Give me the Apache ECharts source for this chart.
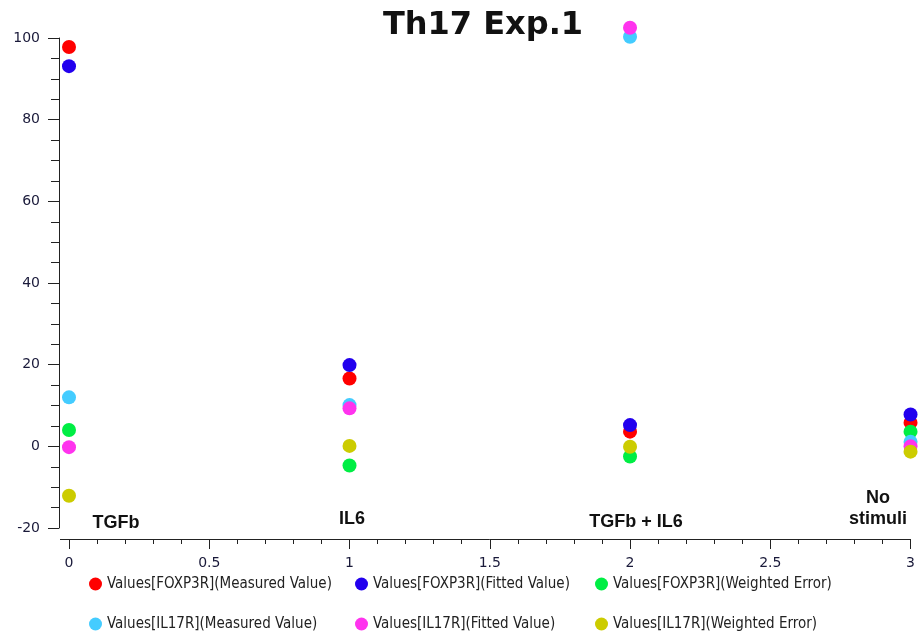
<!DOCTYPE html>
<html>
<head>
<meta charset="utf-8">
<style>html,body{margin:0;padding:0;background:#fff;}#chart{width:918px;height:634px;}</style>
<script src="https://cdn.jsdelivr.net/npm/echarts@6/dist/echarts.min.js"></script>
</head>
<body>
<div id="chart"></div>
<script>
var title = 'Th17 Exp.1';
var xPositions = [0, 1, 2, 3];
var conditionLabels = ['TGFb', 'IL6', 'TGFb + IL6', 'No\nstimuli'];
var seriesNames = [
  'Values[FOXP3R](Measured Value)',
  'Values[FOXP3R](Fitted Value)',
  'Values[FOXP3R](Weighted Error)',
  'Values[IL17R](Measured Value)',
  'Values[IL17R](Fitted Value)',
  'Values[IL17R](Weighted Error)'
];
var foxp3rMeasured = [97.8, 16.6, 3.6, 5.8];
var foxp3rFitted   = [93.1, 19.9, 5.2, 7.8];
var foxp3rError    = [4.0, -4.7, -2.5, 3.6];
var il17rMeasured  = [12.0, 10.1, 100.3, 1.1];
var il17rFitted    = [-0.2, 9.3, 102.5, 0.0];
var il17rError     = [-12.1, 0.1, -0.1, -1.3];
var colors = ['#ff0000', '#2200ee', '#00ee44', '#44ccff', '#ff33ee', '#cccc00'];

var allValues = [foxp3rMeasured, foxp3rFitted, foxp3rError, il17rMeasured, il17rFitted, il17rError];
var series = allValues.map(function (vals, i) {
  return {
    name: seriesNames[i],
    type: 'scatter',
    symbol: 'circle',
    symbolSize: 14,
    clip: false,
    itemStyle: { color: colors[i], opacity: 1 },
    data: vals.map(function (v, j) { return [xPositions[j], v]; }),
    z: 2 + i
  };
});

var chart = echarts.init(document.getElementById('chart'));
var labelPos = [[116, 523], [352, 519], [636, 522], [878, 509]];
var graphics = conditionLabels.map(function (t, i) {
  return {
    type: 'text', x: labelPos[i][0], y: labelPos[i][1],
    style: { text: t, font: 'bold 18px "Liberation Sans", Arial, sans-serif', fill: '#111', align: 'center', verticalAlign: 'middle', lineHeight: 21 }
  };
});
graphics.push({
  type: 'line', shape: { x1: 60, y1: 539.5, x2: 69, y2: 539.5 },
  style: { stroke: '#222', lineWidth: 1 }
});

var legendFont = { fontFamily: '"DejaVu Sans Condensed", "DejaVu Sans", sans-serif', fontSize: 15, lineHeight: 16, color: '#222' };
function makeLegend(left, names) {
  return {
    orient: 'vertical', left: left, top: 576, itemGap: 24,
    icon: 'circle', itemWidth: 13, itemHeight: 13,
    textStyle: legendFont, data: names, selectedMode: false, padding: 0
  };
}

chart.setOption({
  animation: false,
  title: {
    text: title, left: 478, top: 5, textAlign: 'center',
    textStyle: { fontFamily: '"DejaVu Sans", sans-serif', fontWeight: 'bold', fontSize: 32, color: '#111' }
  },
  legend: [
    makeLegend(89, [seriesNames[0], seriesNames[3]]),
    makeLegend(355, [seriesNames[1], seriesNames[4]]),
    makeLegend(595, [seriesNames[2], seriesNames[5]])
  ],
  grid: { left: 69, right: 4, top: 38, bottom: 106, containLabel: false },
  xAxis: {
    type: 'value', min: 0, max: 3, interval: 0.5, offset: 11,
    axisLine: { show: true, onZero: false, lineStyle: { color: '#222', width: 1 } },
    axisTick: { show: true, length: 10, lineStyle: { color: '#222' } },
    minorTick: { show: true, splitNumber: 5, length: 5, lineStyle: { color: '#222' } },
    splitLine: { show: false },
    axisLabel: { margin: 17, color: '#1a1a3a', fontFamily: '"DejaVu Sans", sans-serif', fontSize: 14, showMaxLabel: true }
  },
  yAxis: {
    type: 'value', min: -20, max: 100, interval: 20, offset: 10,
    axisLine: { show: true, onZero: false, lineStyle: { color: '#222', width: 1 } },
    axisTick: { show: true, length: 11, lineStyle: { color: '#222' } },
    minorTick: { show: true, splitNumber: 4, length: 8, lineStyle: { color: '#222' } },
    splitLine: { show: false },
    axisLabel: { margin: 19, color: '#1a1a3a', fontFamily: '"DejaVu Sans", sans-serif', fontSize: 14 }
  },
  graphic: graphics,
  series: series
});
</script>
</body>
</html>
